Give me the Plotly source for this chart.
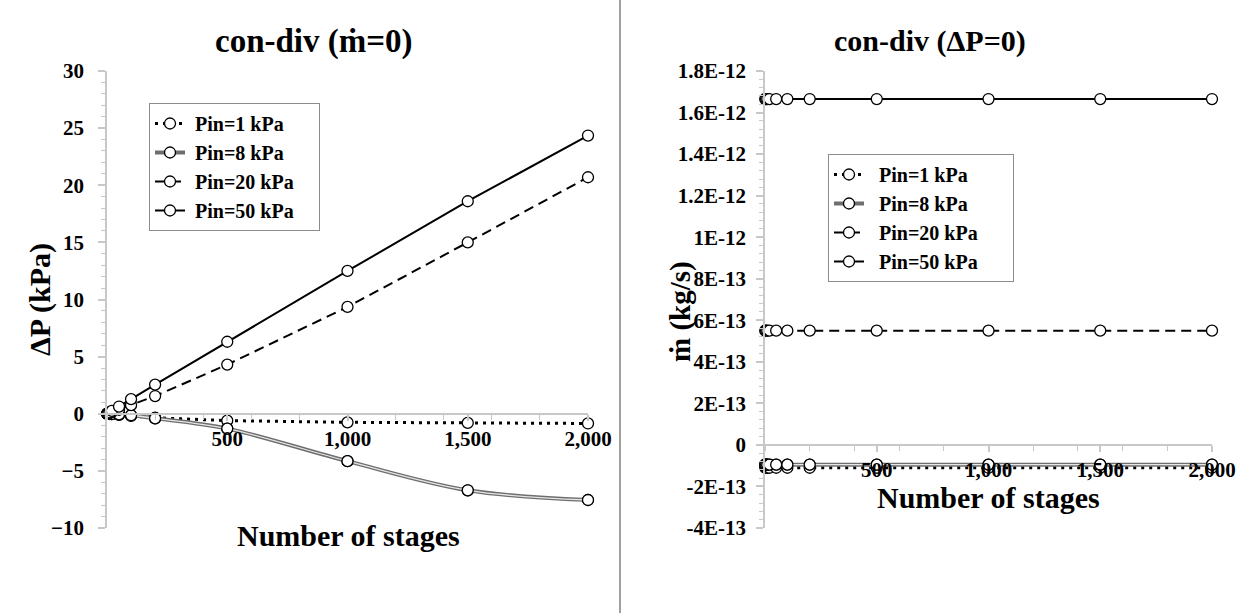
import plotly.graph_objects as go

# ---------------- data ----------------
stages = [1, 5, 10, 20, 50, 100, 200, 500, 1000, 1500, 2000]
series_names = ["Pin=1 kPa", "Pin=8 kPa", "Pin=20 kPa", "Pin=50 kPa"]

# Left panel: dP (kPa) at mdot = 0
dp_pin1 = [-0.002, -0.01, -0.02, -0.04, -0.09, -0.18, -0.35, -0.6, -0.75, -0.8, -0.85]
dp_pin8 = [-0.001, -0.005, -0.01, -0.02, -0.06, -0.13, -0.4, -1.3, -4.15, -6.7, -7.55]
dp_pin20 = [0.01, 0.04, 0.08, 0.15, 0.35, 0.75, 1.55, 4.3, 9.35, 15.0, 20.7]
dp_pin50 = [0.012, 0.06, 0.12, 0.25, 0.63, 1.28, 2.55, 6.3, 12.5, 18.6, 24.35]

# Right panel: mdot (kg/s) at dP = 0
md_pin1 = [-1.1e-13, -1.1e-13, -1.1e-13, -1.1e-13, -1.1e-13, -1.1e-13, -1.1e-13, -1.1e-13, -1.1e-13, -1.1e-13, -1.1e-13]
md_pin8 = [-0.95e-13, -0.95e-13, -0.95e-13, -0.95e-13, -0.95e-13, -0.95e-13, -0.95e-13, -0.95e-13, -0.95e-13, -0.95e-13, -0.95e-13]
md_pin20 = [5.5e-13, 5.5e-13, 5.5e-13, 5.5e-13, 5.5e-13, 5.5e-13, 5.5e-13, 5.5e-13, 5.5e-13, 5.5e-13, 5.5e-13]
md_pin50 = [1.665e-12, 1.665e-12, 1.665e-12, 1.665e-12, 1.665e-12, 1.665e-12, 1.665e-12, 1.665e-12, 1.665e-12, 1.665e-12, 1.665e-12]

x_tickvals = [500, 1000, 1500, 2000]
x_ticktext = ["500", "1,000", "1,500", "2,000"]
left_y_tickvals = [-10, -5, 0, 5, 10, 15, 20, 25, 30]
right_y_tickvals = [-4e-13, -2e-13, 0, 2e-13, 4e-13, 6e-13, 8e-13, 1e-12, 1.2e-12, 1.4e-12, 1.6e-12, 1.8e-12]
right_y_ticktext = ["-4E-13", "-2E-13", "0", "2E-13", "4E-13", "6E-13", "8E-13", "1E-12",
                    "1.2E-12", "1.4E-12", "1.6E-12", "1.8E-12"]

# ---------------- layout geometry ----------------
W, H = 1243, 613
SERIF = "Liberation Serif"
NB = "\u00a0"
left_dom = [107 / W, 588 / W]
right_dom = [765 / W, 1212 / W]
y_dom = [1 - 528 / H, 1 - 71 / H]
left_range = [-10, 30]
right_range = [-4e-13, 1.8e-12]


def zero_pos(rng):
    frac = (0 - rng[0]) / (rng[1] - rng[0])
    return y_dom[0] + frac * (y_dom[1] - y_dom[0])


marker = dict(symbol="circle", size=11, color="white", line=dict(color="black", width=1.3))

fig = go.Figure()


def add_panel(xa, ya, ys, legend, lead, trail):
    y1, y8, y20, y50 = ys
    nm = [NB * lead + s + NB * trail for s in series_names]
    # Pin=1 dotted
    fig.add_trace(go.Scatter(x=stages, y=y1, name=nm[0], mode="lines+markers",
                             line=dict(color="black", width=3, dash="3px,5px"),
                             marker=marker, xaxis=xa, yaxis=ya, legend=legend, cliponaxis=False))
    # Pin=8 double line (outer grey + inner light) with markers on top
    fig.add_trace(go.Scatter(x=stages, y=y8, name=nm[1], mode="lines+markers",
                             line=dict(color="#6e6e6e", width=4, shape="spline"),
                             marker=marker, xaxis=xa, yaxis=ya, legend=legend, cliponaxis=False))
    fig.add_trace(go.Scatter(x=stages, y=y8, mode="lines", showlegend=False, hoverinfo="skip",
                             line=dict(color="#e6e6e6", width=1.3, shape="spline"),
                             xaxis=xa, yaxis=ya, cliponaxis=False))
    fig.add_trace(go.Scatter(x=stages, y=y8, mode="markers", showlegend=False,
                             marker=marker, xaxis=xa, yaxis=ya, cliponaxis=False))
    # Pin=20 dashed
    fig.add_trace(go.Scatter(x=stages, y=y20, name=nm[2], mode="lines+markers",
                             line=dict(color="black", width=2, dash="10px,6px"),
                             marker=marker, xaxis=xa, yaxis=ya, legend=legend, cliponaxis=False))
    # Pin=50 solid
    fig.add_trace(go.Scatter(x=stages, y=y50, name=nm[3], mode="lines+markers",
                             line=dict(color="black", width=2),
                             marker=marker, xaxis=xa, yaxis=ya, legend=legend, cliponaxis=False))


add_panel("x", "y", (dp_pin1, dp_pin8, dp_pin20, dp_pin50), "legend", 1, 4)
add_panel("x2", "y2", (md_pin1, md_pin8, md_pin20, md_pin50), "legend2", 2, 6)

axis_line = "#c8c8c8"
tickfont = dict(family=SERIF, size=21, color="black", weight="bold")

xcommon = dict(range=[0, 2000], tickmode="array", tickvals=x_tickvals, ticktext=x_ticktext,
               showgrid=False, zeroline=False, showline=True, linecolor=axis_line, linewidth=1.5,
               ticks="outside", ticklen=6, tickcolor=axis_line, tickwidth=1.5,
               tickfont=tickfont, ticklabelstandoff=0, automargin=False,
               minor=dict(dtick=200, tick0=0, ticks="outside", ticklen=5, tickcolor=axis_line, tickwidth=1.2),
               anchor="free")
ycommon = dict(showgrid=False, zeroline=False, showline=True, linecolor=axis_line, linewidth=1.5,
               ticks="outside", ticklen=7, tickcolor=axis_line, tickwidth=1.5,
               tickfont=tickfont, domain=y_dom, automargin=False)

legend_font = dict(family=SERIF, size=20, color="black", weight="bold")

fig.update_layout(
    width=W, height=H, margin=dict(l=0, r=0, t=0, b=0, autoexpand=False),
    paper_bgcolor="white", plot_bgcolor="white",
    xaxis=dict(domain=left_dom, position=zero_pos(left_range), **xcommon),
    yaxis=dict(range=left_range, tickmode="array", tickvals=left_y_tickvals, ticklabelstandoff=10,
               minor=dict(dtick=1, tick0=0, ticks="outside", ticklen=4, tickcolor=axis_line, tickwidth=1.2),
               anchor="x", **ycommon),
    xaxis2=dict(domain=right_dom, position=zero_pos(right_range), **xcommon),
    yaxis2=dict(range=right_range, tickmode="array", tickvals=right_y_tickvals, ticktext=right_y_ticktext,
                ticklabelstandoff=6,
                minor=dict(dtick=4e-14, tick0=0, ticks="outside", ticklen=4, tickcolor=axis_line, tickwidth=1.2),
                anchor="x2", **ycommon),
    legend=dict(x=149 / W, y=1 - 103 / H, xanchor="left", yanchor="top",
                bgcolor="white", bordercolor="#8c8c8c", borderwidth=1,
                itemwidth=30, font=legend_font),
    legend2=dict(x=828 / W, y=1 - 154 / H, xanchor="left", yanchor="top",
                 bgcolor="white", bordercolor="#8c8c8c", borderwidth=1,
                 itemwidth=30, font=legend_font),
    showlegend=True,
)

ann = [
    dict(text="con-div (ṁ=0)", x=314 / W, y=1 - 41 / H, size=33),
    dict(text="con-div (ΔP=0)", x=930 / W, y=1 - 41 / H, size=30),
    dict(text="Number of stages", x=348 / W, y=1 - 535 / H, size=30),
    dict(text="Number of stages", x=988 / W, y=1 - 497 / H, size=30),
    dict(text="ΔP (kPa)", x=40 / W, y=1 - 300 / H, size=30, textangle=-90),
    dict(text="ṁ (kg/s)", x=680 / W, y=1 - 312 / H, size=29, textangle=-90),
]
for a in ann:
    size = a.pop("size")
    fig.add_annotation(xref="paper", yref="paper", showarrow=False, xanchor="center", yanchor="middle",
                       font=dict(family=SERIF, size=size, color="black", weight="bold"), **a)

fig.add_shape(type="line", xref="paper", yref="paper", x0=620 / W, x1=620 / W, y0=0, y1=1,
              line=dict(color="#808080", width=1.5))

fig.write_html("out.html")
